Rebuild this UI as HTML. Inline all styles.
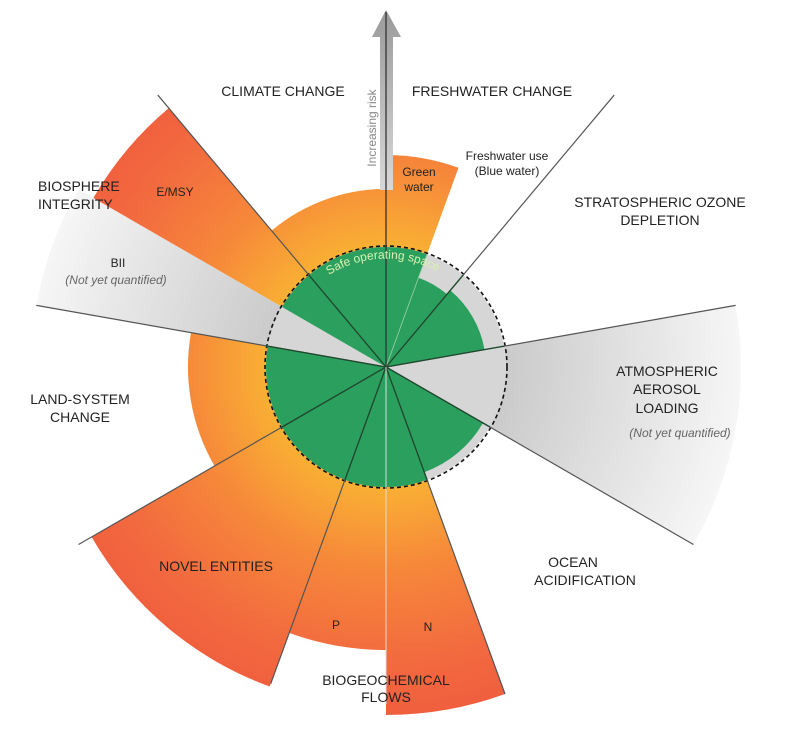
<!DOCTYPE html>
<html><head><meta charset="utf-8"><style>
html,body{margin:0;padding:0;background:#fff;}
svg{display:block;font-family:"Liberation Sans",sans-serif;}
.l{font-size:14px;fill:#222;text-anchor:middle;}
.s{font-size:12px;fill:#222;text-anchor:middle;}
.i{font-size:12px;fill:#666;font-style:italic;text-anchor:middle;}
</style></head><body>
<svg id="s" width="786" height="731" viewBox="0 0 786 731" xmlns="http://www.w3.org/2000/svg">
<defs>
<radialGradient id="og" gradientUnits="userSpaceOnUse" cx="386" cy="367" r="350">
<stop offset="0.34" stop-color="#f9b034"/><stop offset="0.58" stop-color="#f6873a"/><stop offset="0.85" stop-color="#f2693f"/><stop offset="1" stop-color="#f05e3e"/>
</radialGradient>
<radialGradient id="gg" gradientUnits="userSpaceOnUse" cx="386" cy="367" r="355">
<stop offset="0.3" stop-color="#c8c8c8"/><stop offset="1" stop-color="#f6f6f6"/>
</radialGradient>
<linearGradient id="ar" x1="0" y1="0" x2="0" y2="1">
<stop offset="0" stop-color="#9a9a9a"/><stop offset="1" stop-color="#d8d8d8"/>
</linearGradient>
<path id="arc" d="M 329 275 A 108 108 0 0 1 448 278"/>
</defs>
<g id="outer"></g>
<circle cx="386" cy="367" r="120" fill="#d6d6d6"/>
<g id="inner"></g>
<circle cx="386" cy="367" r="121" fill="none" stroke="#111" stroke-width="1.6" stroke-dasharray="4,3"/>
<g id="lines"></g>
<polygon points="386,10 401,37 393,37 393,190 380,190 380,37 372,37" fill="url(#ar)"/>
<line x1="386" y1="12" x2="386" y2="367" stroke="#333" stroke-width="1.3"/>
<text class="s" transform="translate(376,128) rotate(-90)" style="fill:#888;font-size:12px">Increasing risk</text>
<text font-size="12" fill="#d8f0b0"><textPath href="#arc">Safe operating space</textPath></text>
<text class="l" x="283" y="96">CLIMATE CHANGE</text>
<text class="l" x="492" y="96">FRESHWATER CHANGE</text>
<text class="s" x="419" y="176">Green</text><text class="s" x="419" y="191">water</text>
<text class="s" x="507" y="160">Freshwater use</text><text class="s" x="507" y="175">(Blue water)</text>
<text class="l" x="660" y="207">STRATOSPHERIC OZONE</text><text class="l" x="660" y="225">DEPLETION</text>
<text class="l" x="38" y="191" style="text-anchor:start">BIOSPHERE</text><text class="l" x="38" y="209" style="text-anchor:start">INTEGRITY</text>
<text class="s" x="175" y="196">E/MSY</text>
<text class="s" x="118" y="267">BII</text>
<text class="i" x="116" y="284">(Not yet quantified)</text>
<text class="l" x="80" y="404">LAND-SYSTEM</text><text class="l" x="80" y="422">CHANGE</text>
<text class="l" x="667" y="376">ATMOSPHERIC</text><text class="l" x="667" y="394">AEROSOL</text><text class="l" x="667" y="413">LOADING</text>
<text class="i" x="680" y="437">(Not yet quantified)</text>
<text class="l" x="216" y="571">NOVEL ENTITIES</text>
<text class="l" x="573" y="567">OCEAN</text><text class="l" x="585" y="585">ACIDIFICATION</text>
<text class="s" x="336" y="629">P</text><text class="s" x="428" y="631">N</text>
<text class="l" x="386" y="685">BIOGEOCHEMICAL</text><text class="l" x="386" y="702">FLOWS</text>
</svg>
<script>
var cx=386,cy=367,NS="http://www.w3.org/2000/svg";
function P(a,r){a=a*Math.PI/180;return [cx+r*Math.cos(a),cy-r*Math.sin(a)];}
function W(a1,a2,r,fill,g){var p1=P(a1,r),p2=P(a2,r);
var e=document.createElementNS(NS,"path");
e.setAttribute("d","M"+cx+" "+cy+" L"+p1[0].toFixed(1)+" "+p1[1].toFixed(1)+" A"+r+" "+r+" 0 0 0 "+p2[0].toFixed(1)+" "+p2[1].toFixed(1)+" Z");
e.setAttribute("fill",fill);document.getElementById(g).appendChild(e);}
function L(a,r,c,w,r0){var p=P(a,r),q=P(a,r0||0);var e=document.createElementNS(NS,"line");
e.setAttribute("x1",q[0]);e.setAttribute("y1",q[1]);e.setAttribute("x2",p[0]);e.setAttribute("y2",p[1]);
e.setAttribute("stroke",c);e.setAttribute("stroke-width",w);document.getElementById("lines").appendChild(e);}
var o="url(#og)",g="url(#gg)";
W(90,130,178,o,"outer");W(130,150,338,o,"outer");W(150,170,355,g,"outer");
W(170,210,198,o,"outer");W(210,250,340,o,"outer");W(250,270,283,o,"outer");
W(270,290,348,o,"outer");W(330,370,355,g,"outer");W(70,90,212,o,"outer");
var gr="#2ba05e";
W(90,150,120,gr,"inner");W(170,290,120,gr,"inner");W(290,330,112,gr,"inner");
W(10,50,100,gr,"inner");W(50,70,95,gr,"inner");W(70,90,120,gr,"inner");
[130,170,210,250,290,330,10,50].forEach(function(a){L(a,a==250?337:a==290?348:355,"#555",1.2);L(a,120,"#1d4a2c",1.3);});
L(270,337,"#ddd",1);L(70,120,"#9fd0a8",0.8);
</script>
</body></html>
